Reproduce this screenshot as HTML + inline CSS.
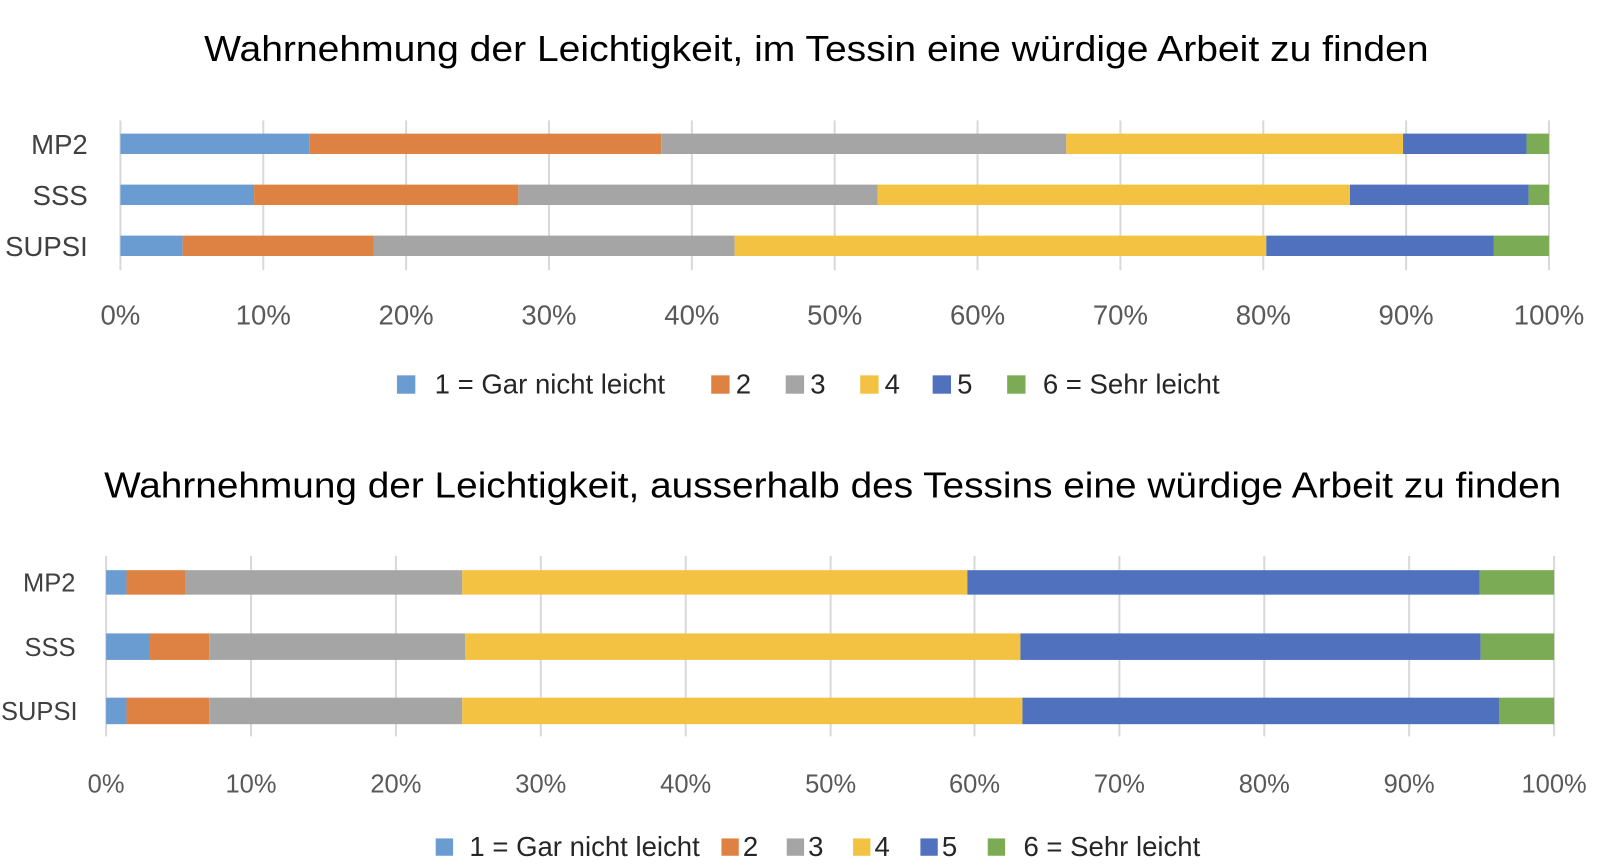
<!DOCTYPE html>
<html><head><meta charset="utf-8"><style>
html,body{margin:0;padding:0;background:#fff;}
svg{display:block;font-family:"Liberation Sans",sans-serif;}
</style></head><body>
<svg width="1600" height="868" viewBox="0 0 1568 851" preserveAspectRatio="none" xmlns="http://www.w3.org/2000/svg">
<g fill="#000" font-size="35" text-anchor="middle">
<text x="800" y="60" textLength="1200" lengthAdjust="spacingAndGlyphs">Wahrnehmung der Leichtigkeit, im Tessin eine würdige Arbeit zu finden</text>
<text x="816" y="488" textLength="1428" lengthAdjust="spacingAndGlyphs">Wahrnehmung der Leichtigkeit, ausserhalb des Tessins eine würdige Arbeit zu finden</text>
</g>
<g id="top">
<g stroke="#d9d9d9" stroke-width="2">
<line x1="118" y1="118" x2="118" y2="265"/><line x1="258" y1="118" x2="258" y2="265"/><line x1="398" y1="118" x2="398" y2="265"/><line x1="538" y1="118" x2="538" y2="265"/><line x1="678" y1="118" x2="678" y2="265"/><line x1="818" y1="118" x2="818" y2="265"/><line x1="958" y1="118" x2="958" y2="265"/><line x1="1098" y1="118" x2="1098" y2="265"/><line x1="1238" y1="118" x2="1238" y2="265"/><line x1="1378" y1="118" x2="1378" y2="265"/><line x1="1518" y1="118" x2="1518" y2="265"/>
</g>
<rect x="118" y="131" width="185" height="20" fill="#6A9BD1"/><rect x="303" y="131" width="345" height="20" fill="#DE8244"/><rect x="648" y="131" width="397" height="20" fill="#A5A5A5"/><rect x="1045" y="131" width="330" height="20" fill="#F3C242"/><rect x="1375" y="131" width="121" height="20" fill="#4F71BE"/><rect x="1496" y="131" width="22" height="20" fill="#7BAB55"/>
<rect x="118" y="181" width="131" height="20" fill="#6A9BD1"/><rect x="249" y="181" width="259" height="20" fill="#DE8244"/><rect x="508" y="181" width="352" height="20" fill="#A5A5A5"/><rect x="860" y="181" width="463" height="20" fill="#F3C242"/><rect x="1323" y="181" width="175" height="20" fill="#4F71BE"/><rect x="1498" y="181" width="20" height="20" fill="#7BAB55"/>
<rect x="118" y="231" width="61" height="20" fill="#6A9BD1"/><rect x="179" y="231" width="187" height="20" fill="#DE8244"/><rect x="366" y="231" width="354" height="20" fill="#A5A5A5"/><rect x="720" y="231" width="521" height="20" fill="#F3C242"/><rect x="1241" y="231" width="223" height="20" fill="#4F71BE"/><rect x="1464" y="231" width="54" height="20" fill="#7BAB55"/>
<g fill="#404040" font-size="27" text-anchor="end">
<text x="86" y="151">MP2</text><text x="86" y="201">SSS</text><text x="86" y="251">SUPSI</text>
</g>
<g fill="#595959" font-size="27" text-anchor="middle">
<text x="118" y="318">0%</text><text x="258" y="318">10%</text><text x="398" y="318">20%</text><text x="538" y="318">30%</text><text x="678" y="318">40%</text><text x="818" y="318">50%</text><text x="958" y="318">60%</text><text x="1098" y="318">70%</text><text x="1238" y="318">80%</text><text x="1378" y="318">90%</text><text x="1518" y="318">100%</text>
</g>
<g font-size="27" fill="#262626">
<rect x="389" y="368" width="18" height="18" fill="#6A9BD1"/><text x="426" y="386">1 = Gar nicht leicht</text>
<rect x="697" y="368" width="18" height="18" fill="#DE8244"/><text x="721" y="386">2</text>
<rect x="770" y="368" width="18" height="18" fill="#A5A5A5"/><text x="794" y="386">3</text>
<rect x="843" y="368" width="18" height="18" fill="#F3C242"/><text x="867" y="386">4</text>
<rect x="914" y="368" width="18" height="18" fill="#4F71BE"/><text x="938" y="386">5</text>
<rect x="987" y="368" width="18" height="18" fill="#7BAB55"/><text x="1022" y="386">6 = Sehr leicht</text>
</g>
</g>
<g id="bottom">
<g stroke="#d9d9d9" stroke-width="2">
<line x1="104" y1="545" x2="104" y2="722"/><line x1="246" y1="545" x2="246" y2="722"/><line x1="388" y1="545" x2="388" y2="722"/><line x1="530" y1="545" x2="530" y2="722"/><line x1="672" y1="545" x2="672" y2="722"/><line x1="814" y1="545" x2="814" y2="722"/><line x1="955" y1="545" x2="955" y2="722"/><line x1="1097" y1="545" x2="1097" y2="722"/><line x1="1239" y1="545" x2="1239" y2="722"/><line x1="1381" y1="545" x2="1381" y2="722"/><line x1="1523" y1="545" x2="1523" y2="722"/>
</g>
<rect x="104" y="559" width="20" height="24" fill="#6A9BD1"/><rect x="124" y="559" width="58" height="24" fill="#DE8244"/><rect x="182" y="559" width="271" height="24" fill="#A5A5A5"/><rect x="453" y="559" width="495" height="24" fill="#F3C242"/><rect x="948" y="559" width="502" height="24" fill="#4F71BE"/><rect x="1450" y="559" width="73" height="24" fill="#7BAB55"/>
<rect x="104" y="621" width="43" height="26" fill="#6A9BD1"/><rect x="147" y="621" width="58" height="26" fill="#DE8244"/><rect x="205" y="621" width="251" height="26" fill="#A5A5A5"/><rect x="456" y="621" width="544" height="26" fill="#F3C242"/><rect x="1000" y="621" width="451" height="26" fill="#4F71BE"/><rect x="1451" y="621" width="72" height="26" fill="#7BAB55"/>
<rect x="104" y="684" width="20" height="26" fill="#6A9BD1"/><rect x="124" y="684" width="81" height="26" fill="#DE8244"/><rect x="205" y="684" width="248" height="26" fill="#A5A5A5"/><rect x="453" y="684" width="549" height="26" fill="#F3C242"/><rect x="1002" y="684" width="467" height="26" fill="#4F71BE"/><rect x="1469" y="684" width="54" height="26" fill="#7BAB55"/>
<g fill="#404040" font-size="25" text-anchor="end">
<text x="74" y="580">MP2</text><text x="74" y="643">SSS</text><text x="76" y="706">SUPSI</text>
</g>
<g fill="#595959" font-size="25" text-anchor="middle">
<text x="104" y="777">0%</text><text x="246" y="777">10%</text><text x="388" y="777">20%</text><text x="530" y="777">30%</text><text x="672" y="777">40%</text><text x="814" y="777">50%</text><text x="955" y="777">60%</text><text x="1097" y="777">70%</text><text x="1239" y="777">80%</text><text x="1381" y="777">90%</text><text x="1523" y="777">100%</text>
</g>
<g font-size="27" fill="#262626">
<rect x="427" y="822" width="17" height="17" fill="#6A9BD1"/><text x="460" y="839">1 = Gar nicht leicht</text>
<rect x="707" y="822" width="17" height="17" fill="#DE8244"/><text x="728" y="839">2</text>
<rect x="771" y="822" width="17" height="17" fill="#A5A5A5"/><text x="792" y="839">3</text>
<rect x="836" y="822" width="17" height="17" fill="#F3C242"/><text x="857" y="839">4</text>
<rect x="902" y="822" width="17" height="17" fill="#4F71BE"/><text x="923" y="839">5</text>
<rect x="968" y="822" width="17" height="17" fill="#7BAB55"/><text x="1003" y="839">6 = Sehr leicht</text>
</g>
</g>
</svg>
</body></html>
